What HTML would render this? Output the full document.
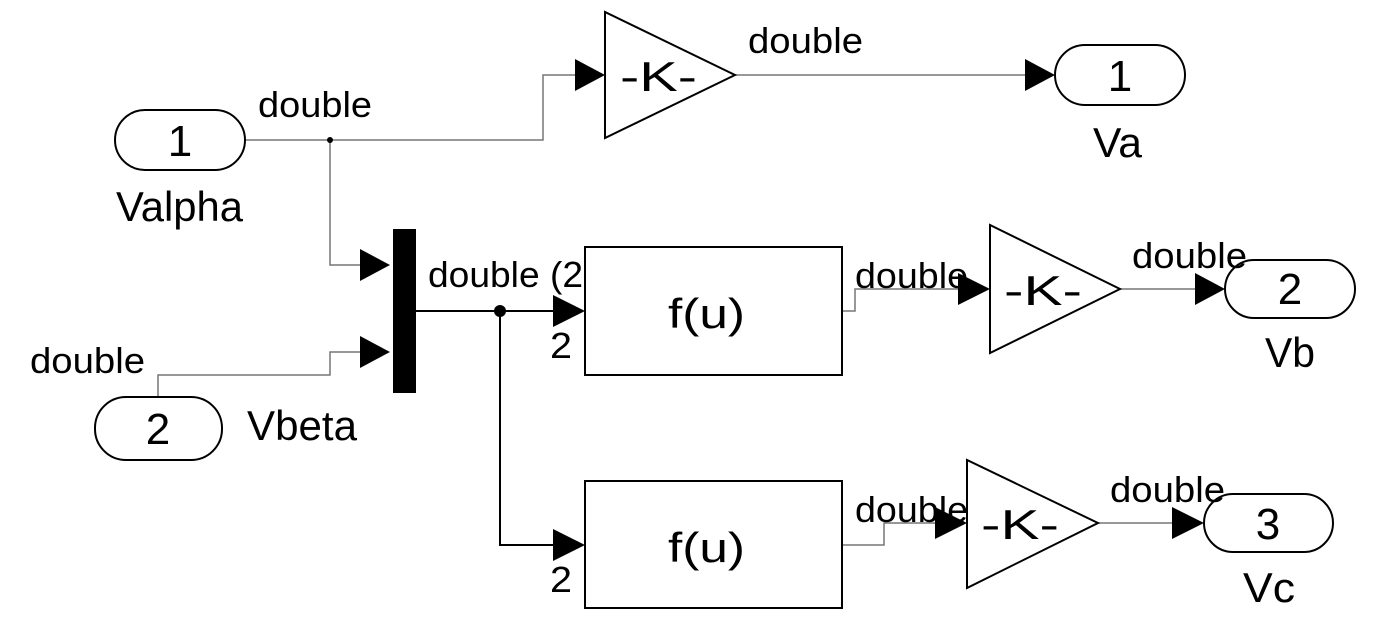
<!DOCTYPE html>
<html><head><meta charset="utf-8"><style>body{margin:0;background:#fff}svg{display:block}text{font-family:"Liberation Sans",sans-serif;fill:#000}</style></head>
<body>
<svg width="1400" height="622" viewBox="0 0 1400 622" xmlns="http://www.w3.org/2000/svg">
<g fill="none" stroke="#777" stroke-width="1.5">
<polyline points="245,140 543,140 543,75 578,75"/>
<polyline points="735,75 1028,75"/>
<polyline points="330,140 330,265 362,265"/>
<polyline points="158,397 158,375 330,375 330,352 362,352"/>
<polyline points="842,311 855,311 855,289 960,289"/>
<polyline points="1120,289 1198,289"/>
<polyline points="842,545 884,545 884,523 937,523"/>
<polyline points="1098,523 1174,523"/>
</g>
<g fill="none" stroke="#000" stroke-width="2">
<polyline points="416,311 555,311"/>
<polyline points="500,311 500,545 555,545"/>
</g>
<g fill="#000">
<circle cx="330" cy="140" r="3"/>
<circle cx="500" cy="311" r="6"/>
<polygon points="575,59 605,75 575,91"/>
<polygon points="1025,59 1055,75 1025,91"/>
<polygon points="360,249 390,265 360,281"/>
<polygon points="360,336 390,352 360,368"/>
<polygon points="553,295 585,311 553,327"/>
<polygon points="553,529 585,545 553,561"/>
<polygon points="958,273 990,289 958,305"/>
<polygon points="1195,273 1225,289 1195,305"/>
<polygon points="935,507 967,523 935,539"/>
<polygon points="1172,507 1204,523 1172,539"/>
<rect x="393" y="229" width="23" height="164"/>
</g>
<g fill="#fff" stroke="#000" stroke-width="2">
<rect x="115" y="110" width="130" height="60" rx="30"/>
<rect x="95" y="397" width="127" height="63" rx="31"/>
<rect x="1055" y="45" width="130" height="60" rx="30"/>
<rect x="1225" y="260" width="130" height="58" rx="29"/>
<rect x="1204" y="494" width="129" height="58" rx="29"/>
<polygon points="605,12 605,138 735,75"/>
<polygon points="990,225 990,353 1120,289"/>
<polygon points="967,460 967,588 1098,523"/>
<rect x="585" y="247" width="257" height="128"/>
<rect x="585" y="481" width="257" height="127"/>
</g>
<g font-size="44" text-anchor="middle">
<text x="180" y="156">1</text>
<text x="158" y="444">2</text>
<text x="1120" y="91">1</text>
<text x="1290" y="304">2</text>
<text x="1268" y="539">3</text>
</g>
<g font-size="42" lengthAdjust="spacingAndGlyphs">
<text x="620" y="91" textLength="77" lengthAdjust="spacingAndGlyphs">-K-</text>
<text x="1004" y="305" textLength="78" lengthAdjust="spacingAndGlyphs">-K-</text>
<text x="981" y="539" textLength="78" lengthAdjust="spacingAndGlyphs">-K-</text>
<text x="668" y="328" textLength="77" lengthAdjust="spacingAndGlyphs">f(u)</text>
<text x="668" y="562" textLength="77" lengthAdjust="spacingAndGlyphs">f(u)</text>
<text x="116" y="221" textLength="127" lengthAdjust="spacingAndGlyphs">Valpha</text>
<text x="247" y="440" textLength="110" lengthAdjust="spacingAndGlyphs">Vbeta</text>
<text x="1093" y="157" textLength="49" lengthAdjust="spacingAndGlyphs">Va</text>
<text x="1265" y="367" textLength="50" lengthAdjust="spacingAndGlyphs">Vb</text>
<text x="1243" y="602" textLength="52" lengthAdjust="spacingAndGlyphs">Vc</text>
</g>
<g font-size="36">
<text x="258" y="117" textLength="114" lengthAdjust="spacingAndGlyphs">double</text>
<text x="748" y="53" textLength="115" lengthAdjust="spacingAndGlyphs">double</text>
<text x="30" y="373" textLength="115" lengthAdjust="spacingAndGlyphs">double</text>
<text x="428" y="287" textLength="155" lengthAdjust="spacingAndGlyphs">double (2</text>
<text x="855" y="288" textLength="113" lengthAdjust="spacingAndGlyphs">double</text>
<text x="1132" y="268" textLength="115" lengthAdjust="spacingAndGlyphs">double</text>
<text x="855" y="522" textLength="113" lengthAdjust="spacingAndGlyphs">double</text>
<text x="1110" y="502" textLength="115" lengthAdjust="spacingAndGlyphs">double</text>
<text x="550" y="358" textLength="22" lengthAdjust="spacingAndGlyphs">2</text>
<text x="550" y="592" textLength="22" lengthAdjust="spacingAndGlyphs">2</text>
</g>
</svg>
</body></html>
